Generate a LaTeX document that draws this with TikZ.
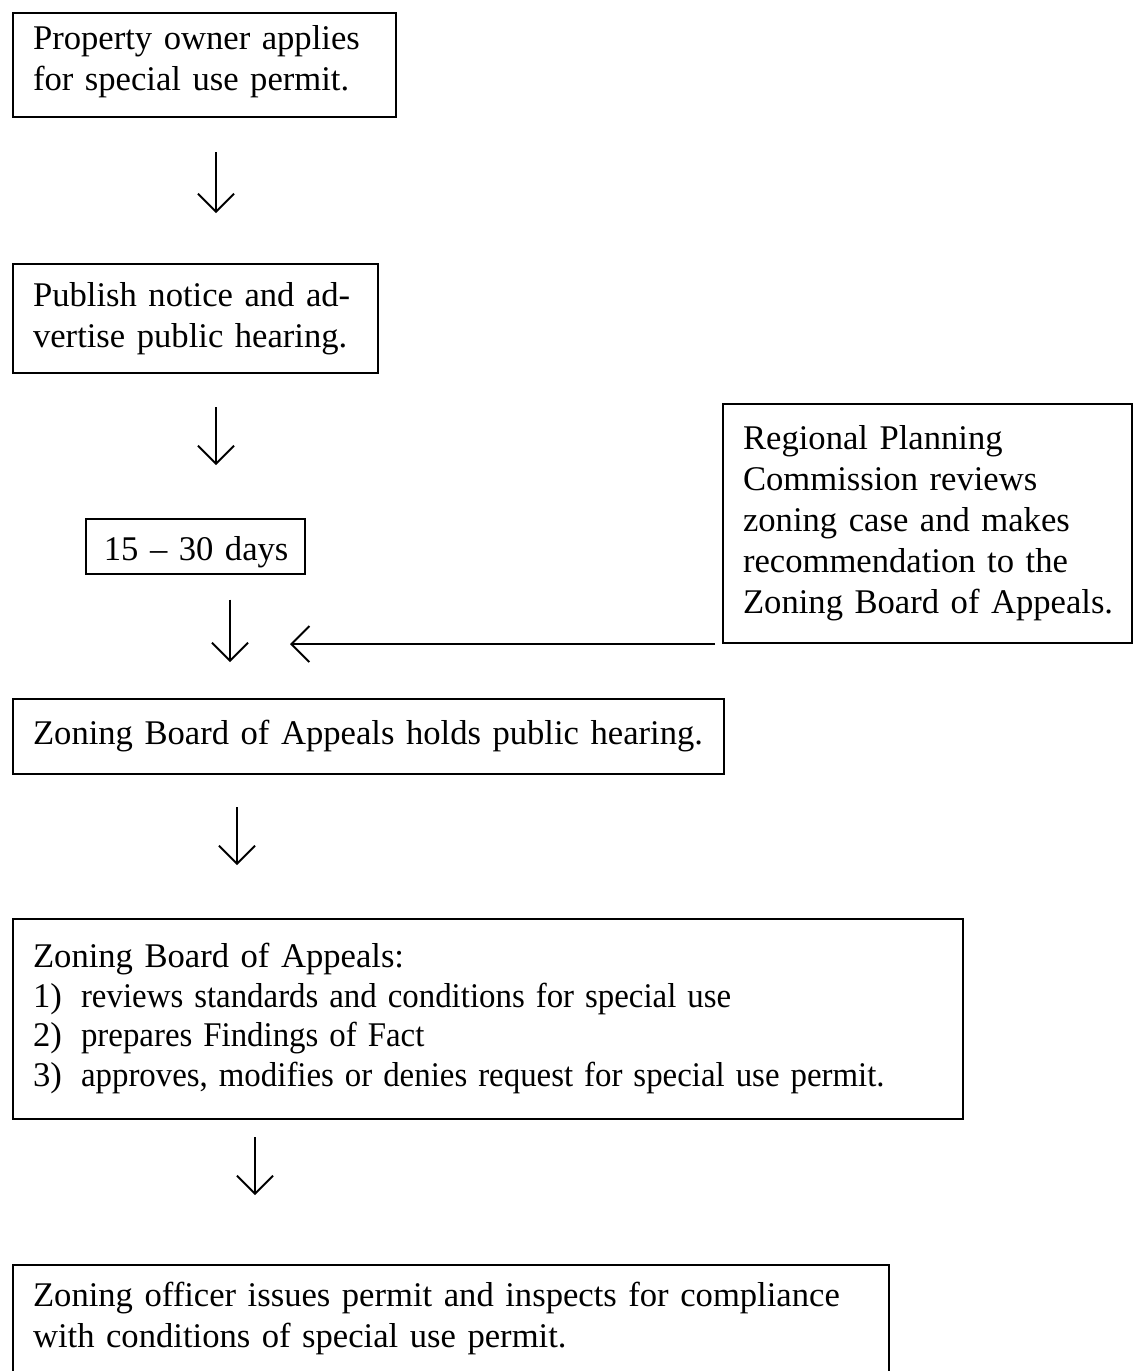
\documentclass[tikz,border=0pt]{standalone}
\usepackage{fontspec}
\setmainfont{Liberation Serif}
\usepackage{graphicx}
\usepackage{tikz}
\usetikzlibrary{arrows.meta}
\newcommand{\lines}[1]{\noindent\begin{tabular}{@{}l@{}}#1\end{tabular}}
\newcommand{\listitem}[2]{\makebox[0.96cm][l]{#1}\scalebox{0.95}[1]{#2}}

\begin{document}
\begin{tikzpicture}[x=0.02cm,y=-0.02cm,
    box/.style={draw,line width=1.2pt,anchor=north west,inner xsep=0.4cm,inner ysep=0pt,
      font=\fontsize{19.7}{23.3}\selectfont},
    arr/.style={line width=1.1pt,-{Straight Barb[length=0.36cm,width=0.72cm,line width=1.1pt]}}]
          \clip (0,0) rectangle (1133,1371);
          \fill[white] (0,0) rectangle (1133,1371);
          \node[box,text width=6.86cm,minimum height=2.08cm] (owner) at (12,12)
            {\lines{\raisebox{2pt}[\height][\depth]{Property owner applies}\\
                    \raisebox{2pt}[\height][\depth]{for special use permit.}}};
          \node[box,text width=6.5cm,minimum height=2.18cm] (publish) at (12,263)
            {\lines{Publish notice and ad-\\vertise public hearing.}};
          \node[box,text width=3.66cm,inner xsep=0.36cm,minimum height=1.1cm,line width=1pt] (days) at (85,518)
            {\lines{\raisebox{-3.4pt}[\height][\depth]{15 -- 30 days}}};
          \node[box,text width=7.38cm,minimum height=4.78cm] (rpc) at (722,403)
            {\lines{Regional Planning\\Commission reviews\\zoning case and makes\\recommendation to the\\Zoning Board of Appeals.}};
          \node[box,text width=13.42cm,minimum height=1.5cm] (hearing) at (12,698)
            {\lines{Zoning Board of Appeals holds public hearing.}};
          \node[box,text width=18.2cm,minimum height=4cm,font=\fontsize{19.7}{22.7}\selectfont] (review) at (12,918)
            {\lines{Zoning Board of Appeals:\\
             \listitem{1)}{reviews standards and conditions for special use}\\
             \listitem{2)}{prepares Findings of Fact}\\
             \listitem{3)}{approves, modifies or denies request for special use permit.}}};
          \node[box,text width=16.72cm,minimum height=2.14cm] (officer) at (12,1264)
            {\lines{Zoning officer issues permit and inspects for compliance\\with conditions of special use permit.}};
          \coordinate (merge) at (290,645);
          \draw[arr,shorten <=0.68cm,shorten >=1cm] (owner.south -| 216,0) -- (publish.north -| 216,0);
          \draw[arr,shorten <=0.66cm,shorten >=1.06cm] (publish.south -| 216,0) -- (days.north -| 216,0);
          \draw[arr,shorten <=0.5cm,shorten >=0.72cm] (days.south -| 230,0) -- (hearing.north -| 230,0);
          \draw[arr,shorten <=0.64cm,shorten >=1.06cm] (hearing.south -| 237,0) -- (review.north -| 237,0);
          \draw[arr,shorten <=0.34cm,shorten >=1.38cm] (review.south -| 255,0) -- (officer.north -| 255,0);
          \draw[arr] ([xshift=-0.14cm]rpc.south west) -- (merge |- rpc.south west);
        \end{tikzpicture}
\end{document}
